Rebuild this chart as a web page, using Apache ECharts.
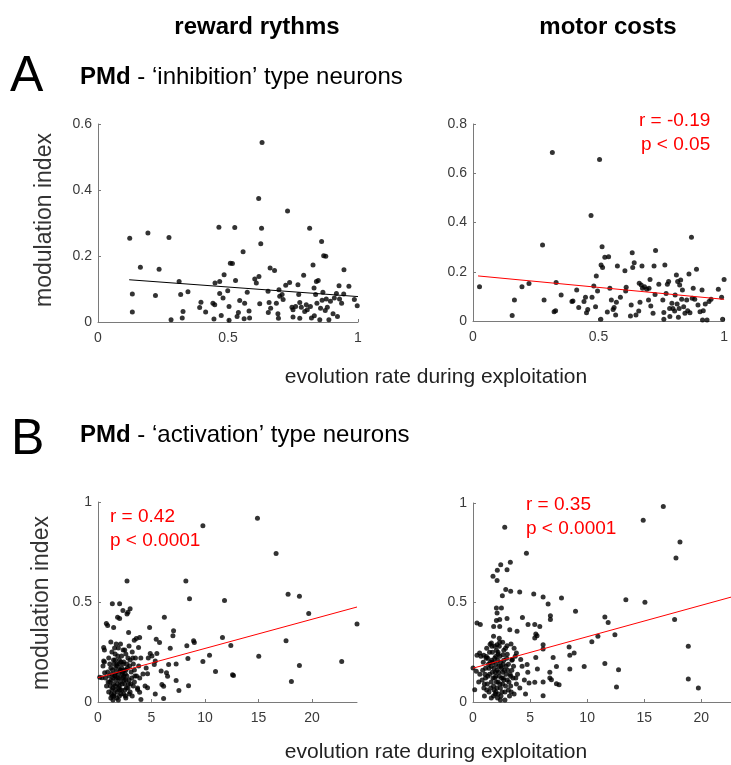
<!DOCTYPE html>
<html>
<head>
<meta charset="utf-8">
<script src="https://cdn.jsdelivr.net/npm/echarts@6/dist/echarts.min.js"></script>
<style>
html,body{margin:0;padding:0;background:#fff;}
#chart{width:731px;height:765px;}
</style>
</head>
<body>
<div id="chart"></div>
<script>
// ---- Data ----
const columnTitles = ['reward rythms', 'motor costs'];
const xAxisTitle = 'evolution rate during exploitation';
const yAxisTitle = 'modulation index';

// Panel A left: PMd inhibition, reward rythms
const aLeftPoints = [
[0.122,0.254],[0.132,0.085],[0.132,0.030],[0.163,0.166],[0.192,0.270],[0.221,0.080],[0.235,0.160],[0.273,0.256],
[0.281,0.007],[0.312,0.123],[0.318,0.083],[0.324,0.012],[0.327,0.032],[0.346,0.092],[0.391,0.044],[0.396,0.060],
[0.414,0.030],[0.442,0.057],[0.449,0.052],[0.446,0.009],[0.450,0.118],[0.465,0.287],[0.468,0.123],[0.468,0.086],
[0.474,0.020],[0.481,0.073],[0.485,0.143],[0.499,0.095],[0.504,0.047],[0.504,0.005],[0.509,0.178],[0.517,0.177],
[0.526,0.286],[0.529,0.126],[0.535,0.017],[0.540,0.029],[0.545,0.065],[0.558,0.213],[0.562,0.010],[0.564,0.057],
[0.574,0.090],[0.581,0.033],[0.583,0.012],[0.603,0.130],[0.609,0.118],[0.618,0.374],[0.619,0.138],[0.626,0.237],
[0.631,0.544],[0.629,0.284],[0.622,0.055],[0.654,0.093],[0.655,0.029],[0.658,0.059],[0.662,0.164],[0.664,0.042],
[0.679,0.156],[0.686,0.057],[0.692,0.025],[0.694,0.011],[0.696,0.098],[0.699,0.078],[0.708,0.083],[0.712,0.068],
[0.722,0.111],[0.729,0.336],[0.737,0.120],[0.746,0.045],[0.750,0.037],[0.750,0.015],[0.760,0.047],[0.769,0.113],
[0.772,0.083],[0.776,0.059],[0.776,0.011],[0.782,0.045],[0.791,0.142],[0.795,0.032],[0.801,0.052],[0.805,0.037],
[0.814,0.284],[0.817,0.047],[0.821,0.012],[0.827,0.173],[0.831,0.103],[0.832,0.019],[0.837,0.083],[0.840,0.123],
[0.842,0.057],[0.847,0.126],[0.853,0.007],[0.856,0.042],[0.860,0.244],[0.862,0.066],[0.865,0.090],[0.868,0.201],
[0.876,0.199],[0.874,0.035],[0.878,0.070],[0.882,0.045],[0.888,0.007],[0.894,0.063],[0.904,0.025],[0.909,0.073],
[0.917,0.086],[0.921,0.017],[0.927,0.110],[0.929,0.070],[0.937,0.057],[0.945,0.085],[0.946,0.158],[0.965,0.108],
[0.986,0.068],[0.997,0.049]
];
const aLeftFit = [[0.12,0.128],[1.0,0.077]];

// Panel A right: PMd inhibition, motor costs
const aRightPoints = [
[0.026,0.139],[0.156,0.022],[0.165,0.085],[0.195,0.139],[0.223,0.152],[0.277,0.309],[0.283,0.085],[0.316,0.684],
[0.323,0.038],[0.329,0.042],[0.331,0.156],[0.351,0.106],[0.394,0.079],[0.398,0.081],[0.413,0.126],[0.421,0.055],
[0.442,0.079],[0.448,0.096],[0.452,0.034],[0.457,0.047],[0.470,0.428],[0.474,0.096],[0.481,0.142],[0.488,0.058],
[0.491,0.183],[0.496,0.122],[0.504,0.656],[0.509,0.007],[0.510,0.227],[0.514,0.302],[0.516,0.217],[0.525,0.259],
[0.535,0.037],[0.540,0.261],[0.545,0.133],[0.551,0.085],[0.558,0.047],[0.562,0.055],[0.568,0.024],[0.571,0.076],
[0.575,0.223],[0.587,0.096],[0.605,0.204],[0.608,0.122],[0.610,0.137],[0.627,0.020],[0.630,0.065],[0.634,0.277],
[0.636,0.217],[0.642,0.237],[0.649,0.024],[0.660,0.041],[0.662,0.153],[0.665,0.076],[0.670,0.146],[0.673,0.223],
[0.675,0.133],[0.683,0.139],[0.692,0.129],[0.699,0.085],[0.701,0.133],[0.705,0.169],[0.708,0.061],[0.717,0.031],
[0.721,0.223],[0.727,0.286],[0.725,0.108],[0.740,0.149],[0.756,0.085],[0.760,0.035],[0.760,0.007],[0.764,0.227],
[0.769,0.112],[0.774,0.149],[0.779,0.160],[0.783,0.051],[0.784,0.018],[0.792,0.072],[0.796,0.051],[0.803,0.041],
[0.805,0.106],[0.810,0.187],[0.813,0.069],[0.815,0.160],[0.818,0.015],[0.821,0.051],[0.823,0.146],[0.827,0.166],
[0.831,0.088],[0.834,0.126],[0.839,0.058],[0.844,0.031],[0.851,0.085],[0.855,0.042],[0.860,0.191],[0.864,0.034],
[0.870,0.340],[0.873,0.092],[0.877,0.133],[0.883,0.088],[0.890,0.210],[0.896,0.065],[0.904,0.038],[0.912,0.126],
[0.914,0.004],[0.917,0.042],[0.925,0.069],[0.932,0.004],[0.940,0.079],[0.948,0.088],[0.977,0.129],[0.990,0.096],
[0.994,0.007],[1.0,0.169]
];
const aRightFit = [[0.02,0.183],[1.0,0.088]];

// Panel B left: PMd activation, reward rythms
const bLeftPoints = [
[14.9,0.919],[9.80,0.881],[16.64,0.743],[2.71,0.605],[8.21,0.605],[17.76,0.539],[18.82,0.529],[8.55,0.516],
[11.82,0.508],[1.34,0.491],[2.02,0.491],[19.69,0.442],[24.2,0.390],[11.63,0.323],[17.57,0.306],[12.41,0.282],
[10.42,0.234],[15.02,0.229],[22.77,0.202],[9.80,0.202],[18.82,0.183],[10.98,0.153],[12.57,0.136],[12.66,0.133],
[18.07,0.103],[8.46,0.081],[8.93,0.306],[9.0,0.297],[8.3,0.281],[8.4,0.217],[7.56,0.057],[6.75,0.269],
[7.0,0.331],[7.06,0.356],[7.3,0.19],[7.3,0.108],[6.6,0.188],[6.4,0.146],[6.5,0.129],[6.2,0.424],
[6.13,0.079],[6.13,0.018],[5.97,0.087],[5.9,0.155],[5.75,0.297],[5.44,0.314],[5.5,0.242],[5.35,0.205],
[5.26,0.188],[5.35,0.040],[4.82,0.373],[4.88,0.242],[5.04,0.230],[4.63,0.141],[4.63,0.071],[4.01,0.012],
[3.89,0.049],[3.7,0.062],[3.79,0.272],[3.89,0.323],[3.58,0.318],[3.39,0.309],[2.86,0.348],[2.71,0.440],
[2.8,0.449],[3.0,0.466],[2.33,0.457],[1.83,0.424],[2.02,0.418],[0.78,0.393],[0.90,0.382],[1.46,0.373],
[0.53,0.272],[0.53,0.205],[0.47,0.180],[0.62,0.146],[0.37,0.121],[0.16,0.124],
[1.2,0.02],[1.4,0.01],[1.5,0.04],[1.3,0.06],[1.6,0.08],[1.8,0.05],[2.0,0.03],[2.2,0.06],[2.4,0.04],[2.6,0.02],
[2.8,0.07],[3.0,0.05],[3.2,0.03],[1.1,0.10],[1.4,0.12],[1.7,0.11],[1.9,0.14],[2.1,0.10],[2.3,0.12],[2.5,0.09],
[2.7,0.13],[2.9,0.11],[3.1,0.15],[3.4,0.10],[3.6,0.13],[0.9,0.15],[1.2,0.17],[1.5,0.19],[1.8,0.18],[2.0,0.21],
[2.2,0.17],[2.4,0.20],[2.6,0.16],[2.8,0.22],[3.3,0.19],[3.5,0.22],[3.8,0.18],[1.0,0.22],[1.3,0.25],[1.6,0.24],
[1.9,0.27],[2.1,0.29],[2.5,0.26],[2.9,0.28],[3.2,0.25],[0.8,0.08],[1.0,0.05],[1.7,0.15],[2.0,0.08],[2.3,0.15],
[2.6,0.11],[1.5,0.03],[1.9,0.01],[2.4,0.13],[1.1,0.19],[0.7,0.12],[1.6,0.21],[2.2,0.23],[2.7,0.19],[3.0,0.21],
[3.4,0.16],[4.2,0.14],[4.5,0.17],[4.4,0.08],[3.9,0.12],[4.7,0.22],[4.0,0.22],[3.7,0.07],[1.3,0.14],[2.1,0.16],
[1.8,0.09],[2.9,0.04],[2.5,0.06],[1.6,0.13],[2.0,0.12],[1.4,0.07],[3.3,0.08],[2.6,0.24],[1.2,0.30],[0.6,0.20],
[0.6,0.26],
[1.25,0.04],[1.45,0.09],[1.55,0.13],[1.65,0.06],[1.75,0.02],[1.85,0.12],[1.95,0.07],[2.05,0.16],[2.15,0.04],[2.25,0.09],
[2.35,0.19],[2.45,0.11],[2.55,0.14],[2.65,0.07],[2.75,0.17],[2.85,0.09],[1.15,0.08],[1.35,0.16],[1.45,0.21],[1.55,0.27],
[1.75,0.19],[1.85,0.23],[2.15,0.20],[2.35,0.26],[2.95,0.18],[3.15,0.12],[3.25,0.22],[3.45,0.13],[1.05,0.13],[1.25,0.11],
[1.65,0.17],[2.05,0.06],[2.55,0.03],[3.05,0.09],[1.95,0.19],[2.45,0.16],[1.35,0.03],[0.95,0.10],[1.7,0.29],[2.25,0.14]
];
const bLeftFit = [[0,0.122],[24.2,0.475]];

// Panel B right: PMd activation, motor costs
const bRightPoints = [
[16.67,0.983],[14.91,0.913],[2.78,0.878],[18.13,0.804],[17.78,0.724],[4.68,0.747],[2.43,0.690],[3.27,0.702],
[2.98,0.665],[2.13,0.662],[1.75,0.632],[2.11,0.610],[2.87,0.565],[3.3,0.556],[4.09,0.553],[5.32,0.543],
[2.57,0.534],[6.14,0.528],[7.75,0.523],[13.39,0.514],[15.06,0.501],[6.58,0.492],[2.05,0.472],[2.49,0.472],
[8.98,0.456],[2.11,0.447],[6.78,0.434],[6.78,0.414],[11.55,0.427],[4.33,0.425],[2.98,0.419],[2.05,0.410],
[2.34,0.414],[0.35,0.397],[0.64,0.389],[4.82,0.389],[5.41,0.389],[5.85,0.380],[1.81,0.380],[2.34,0.380],
[11.84,0.400],[17.66,0.414],[3.22,0.363],[3.86,0.355],[5.5,0.342],[5.61,0.333],[5.41,0.322],[12.43,0.338],
[10.94,0.330],[10.41,0.303],[1.61,0.296],[2.34,0.300],[2.11,0.288],[2.98,0.283],[3.33,0.291],[6.14,0.288],
[6.14,0.266],[18.86,0.280],[8.42,0.276],[0.58,0.246],[0.35,0.235],[0.94,0.235],[1.17,0.229],[1.99,0.229],
[2.63,0.238],[2.19,0.250],[3.8,0.246],[8.86,0.246],[8.48,0.235],[5.5,0.224],[7.02,0.224],[4.18,0.213],
[3.45,0.213],[11.55,0.193],[9.74,0.179],[8.48,0.166],[12.75,0.162],[5.64,0.166],[4.74,0.188],[7.31,0.179],
[6.73,0.149],[0.0,0.171],[0.29,0.154],[6.73,0.121],[6.87,0.112],[4.91,0.095],[5.41,0.099],[6.14,0.101],
[7.31,0.092],[7.54,0.087],[6.14,0.032],[18.86,0.116],[19.74,0.070],[12.57,0.075],[0.15,0.062],
[0.6,0.14],[0.8,0.11],[1.0,0.09],[1.1,0.17],[1.3,0.13],[1.4,0.05],[1.5,0.20],[1.6,0.10],[1.7,0.15],[1.8,0.03],
[1.9,0.12],[2.0,0.19],[2.1,0.07],[2.2,0.24],[2.3,0.13],[2.4,0.01],[2.5,0.17],[2.6,0.09],[2.7,0.21],[2.8,0.05],
[2.9,0.14],[3.0,0.11],[3.1,0.19],[3.2,0.03],[3.3,0.08],[3.4,0.16],[3.5,0.12],[3.6,0.04],[3.7,0.23],[3.8,0.09],
[1.2,0.27],[1.5,0.29],[1.9,0.22],[2.3,0.28],[2.7,0.26],[1.0,0.03],[1.6,0.02],[2.0,0.05],[2.4,0.07],[2.8,0.01],
[3.1,0.06],[1.3,0.22],[1.7,0.25],[2.1,0.16],[2.5,0.12],[2.9,0.18],[1.4,0.17],[1.8,0.08],[2.2,0.10],[2.6,0.15],
[3.0,0.24],[3.4,0.21],[3.9,0.14],[4.1,0.07],[4.3,0.18],[0.9,0.20],[0.5,0.10],[0.7,0.23],[1.1,0.12],[2.0,0.13],
[2.4,0.20],[1.6,0.18],[2.2,0.04],[3.3,0.13],[4.5,0.11],[4.8,0.15],[4.6,0.04],[1.2,0.06],[2.7,0.11],[1.9,0.28],
[3.6,0.27],[2.6,0.30],[1.8,0.33],[2.3,0.32],
[1.25,0.09],[1.45,0.14],[1.55,0.07],[1.65,0.21],[1.75,0.12],[1.85,0.17],[1.95,0.04],[2.05,0.10],[2.15,0.21],[2.25,0.15],
[2.35,0.09],[2.45,0.18],[2.55,0.05],[2.65,0.12],[2.75,0.16],[2.85,0.08],[2.95,0.22],[3.05,0.16],[3.15,0.10],[3.25,0.14],
[1.15,0.22],[1.35,0.19],[1.45,0.25],[1.75,0.20],[2.05,0.26],[2.35,0.23],[2.65,0.19],[0.85,0.16],[0.95,0.07],[1.05,0.14],
[2.15,0.02],[2.45,0.03],[1.85,0.06],[3.35,0.05],[3.55,0.18],[3.75,0.12],[1.65,0.28],[2.85,0.27],[2.25,0.18],[1.95,0.15]
];
const bRightFit = [[0,0.17],[22.6,0.527]];

// Axis ranges / ticks
const aXRange = [0, 1, 0.5];
const aLeftYRange = [0, 0.6, 0.2];
const aRightYRange = [0, 0.8, 0.2];
const bLeftXRange = [0, 24.2, 5];
const bRightXRange = [0, 22.6, 5];
const bYRange = [0, 1, 0.5];

const statsARight = ['r = -0.19', 'p < 0.05'];
const statsBLeft = ['r = 0.42', 'p < 0.0001'];
const statsBRight = ['r = 0.35', 'p < 0.0001'];

// ---- Chart ----
const FONT = 'Liberation Sans, Arial, sans-serif';
const AXIS_COLOR = '#7a7a7a';
const LABEL_COLOR = '#3a3a3a';

function mkX(idx, r) {
  return {
    type: 'value', gridIndex: idx, min: r[0], max: r[1], interval: r[2],
    axisLine: {show: true, lineStyle: {color: AXIS_COLOR, width: 1}},
    axisTick: {show: true, inside: true, length: 3, lineStyle: {color: AXIS_COLOR}},
    splitLine: {show: false},
    axisLabel: {color: LABEL_COLOR, fontFamily: FONT, fontSize: 14, margin: 9, showMaxLabel: r[1] % r[2] === 0}
  };
}
function mkY(idx, r) {
  return {
    type: 'value', gridIndex: idx, min: r[0], max: r[1], interval: r[2],
    axisLine: {show: true, lineStyle: {color: AXIS_COLOR, width: 1}},
    axisTick: {show: true, inside: true, length: 3, lineStyle: {color: AXIS_COLOR}},
    splitLine: {show: false},
    axisLabel: {color: LABEL_COLOR, fontFamily: FONT, fontSize: 14, margin: 6}
  };
}
function scatter(idx, data) {
  return {type: 'scatter', xAxisIndex: idx, yAxisIndex: idx, data: data, symbolSize: 5,
    itemStyle: {color: '#000'}, silent: true, animation: false};
}
function fit(idx, data, color) {
  return {type: 'line', xAxisIndex: idx, yAxisIndex: idx, data: data, symbol: 'none',
    lineStyle: {color: color, width: 1}, silent: true, animation: false, z: 3};
}

const chart = echarts.init(document.getElementById('chart'), null, {renderer: 'canvas'});
chart.setOption({
  animation: false,
  backgroundColor: '#fff',
  grid: [
    {left: 98, top: 124, width: 260, height: 198},
    {left: 473, top: 124, width: 258, height: 197},
    {left: 98, top: 502, width: 259, height: 200},
    {left: 473, top: 503, width: 258, height: 199}
  ],
  xAxis: [mkX(0, aXRange), mkX(1, aXRange), mkX(2, bLeftXRange), mkX(3, bRightXRange)],
  yAxis: [mkY(0, aLeftYRange), mkY(1, aRightYRange), mkY(2, bYRange), mkY(3, bYRange)],
  series: [
    scatter(0, aLeftPoints), fit(0, aLeftFit, '#000'),
    scatter(1, aRightPoints), fit(1, aRightFit, '#ff0000'),
    scatter(2, bLeftPoints), fit(2, bLeftFit, '#ff0000'),
    scatter(3, bRightPoints), fit(3, bRightFit, '#ff0000')
  ],
  graphic: [
    {type: 'text', x: 257, y: 27, style: {text: columnTitles[0], font: 'bold 24px ' + FONT, fill: '#000', textAlign: 'center', textVerticalAlign: 'middle'}},
    {type: 'text', x: 608, y: 27, style: {text: columnTitles[1], font: 'bold 24px ' + FONT, fill: '#000', textAlign: 'center', textVerticalAlign: 'middle'}},
    {type: 'text', x: 10, y: 77, style: {text: 'A', font: '50px ' + FONT, fill: '#000', textVerticalAlign: 'middle'}},
    {type: 'text', x: 11, y: 440, style: {text: 'B', font: '50px ' + FONT, fill: '#000', textVerticalAlign: 'middle'}},
    {type: 'text', x: 80, y: 77, style: {
      text: '{b|PMd} - ‘inhibition’ type neurons', fill: '#000', font: '24px ' + FONT, textVerticalAlign: 'middle',
      rich: {b: {fontWeight: 'bold', fontSize: 24, fontFamily: FONT, fill: '#000'}}}},
    {type: 'text', x: 80, y: 435, style: {
      text: '{b|PMd} - ‘activation’ type neurons', fill: '#000', font: '24px ' + FONT, textVerticalAlign: 'middle',
      rich: {b: {fontWeight: 'bold', fontSize: 24, fontFamily: FONT, fill: '#000'}}}},
    {type: 'text', x: 436, y: 377, style: {text: xAxisTitle, font: '21px ' + FONT, fill: '#222', textAlign: 'center', textVerticalAlign: 'middle'}},
    {type: 'text', x: 436, y: 752, style: {text: xAxisTitle, font: '21px ' + FONT, fill: '#222', textAlign: 'center', textVerticalAlign: 'middle'}},
    {type: 'text', x: 45, y: 220, rotation: Math.PI / 2, style: {text: yAxisTitle, font: '23px ' + FONT, fill: '#333', textAlign: 'center', textVerticalAlign: 'middle'}},
    {type: 'text', x: 42, y: 603, rotation: Math.PI / 2, style: {text: yAxisTitle, font: '23px ' + FONT, fill: '#333', textAlign: 'center', textVerticalAlign: 'middle'}},
    {type: 'text', x: 639, y: 121, style: {text: statsARight[0], font: '19px ' + FONT, fill: '#ff0000', textVerticalAlign: 'middle'}},
    {type: 'text', x: 641, y: 145, style: {text: statsARight[1], font: '19px ' + FONT, fill: '#ff0000', textVerticalAlign: 'middle'}},
    {type: 'text', x: 110, y: 517, style: {text: statsBLeft[0], font: '19px ' + FONT, fill: '#ff0000', textVerticalAlign: 'middle'}},
    {type: 'text', x: 110, y: 541, style: {text: statsBLeft[1], font: '19px ' + FONT, fill: '#ff0000', textVerticalAlign: 'middle'}},
    {type: 'text', x: 526, y: 505, style: {text: statsBRight[0], font: '19px ' + FONT, fill: '#ff0000', textVerticalAlign: 'middle'}},
    {type: 'text', x: 526, y: 529, style: {text: statsBRight[1], font: '19px ' + FONT, fill: '#ff0000', textVerticalAlign: 'middle'}}
  ]
});
</script>
</body>
</html>
